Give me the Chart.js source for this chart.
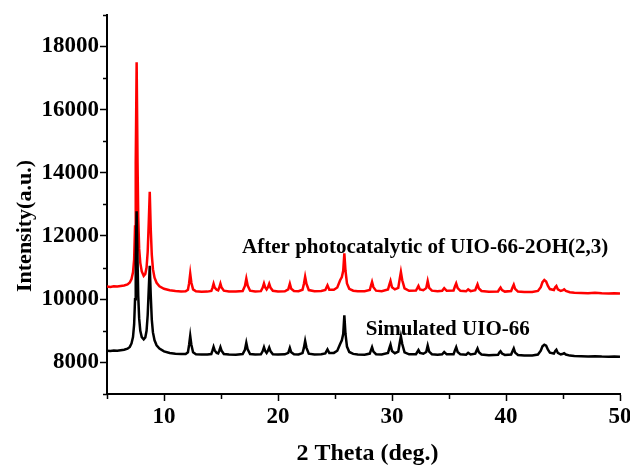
<!DOCTYPE html>
<html>
<head>
<meta charset="utf-8">
<script src="https://cdn.jsdelivr.net/npm/chart.js@4.4.0/dist/chart.umd.min.js"></script>
<style>
  html, body { margin: 0; padding: 0; background: #fff; }
  #wrap { width: 630px; height: 465px; }
</style>
</head>
<body>
<div id="wrap"><canvas id="xrd"></canvas></div>
<script>
// 2θ (deg.)
const twoTheta = [
  5.0, 5.3, 5.6, 5.9, 6.2, 6.5, 6.8, 7.0, 7.15, 7.28,
  7.38, 7.46, 7.52, 7.6, 7.68, 7.74, 7.82, 7.92, 8.05, 8.22,
  8.36, 8.47, 8.57, 8.66, 8.75, 8.84, 8.93, 9.03, 9.17, 9.35,
  9.6, 10.0, 10.5, 11.0, 11.5, 11.9, 12.1, 12.2, 12.3, 12.4,
  12.55, 12.8, 13.3, 13.8, 14.15, 14.25, 14.35, 14.45, 14.62, 14.75,
  14.85, 14.95, 15.05, 15.25, 15.7, 16.3, 16.9, 17.1, 17.22, 17.34,
  17.55, 18.0, 18.5, 18.65, 18.77, 18.88, 19.0, 19.12, 19.23, 19.35,
  19.55, 20.0, 20.6, 20.9, 21.04, 21.16, 21.4, 21.8, 22.15, 22.27,
  22.38, 22.5, 22.7, 23.2, 23.8, 24.15, 24.34, 24.5, 24.9, 25.2,
  25.45, 25.6, 25.72, 25.82, 25.92, 26.05, 26.25, 26.6, 27.0, 27.6,
  28.05, 28.15, 28.25, 28.37, 28.6, 29.1, 29.65, 29.77, 29.87, 30.0,
  30.25, 30.55, 30.68, 30.78, 30.9, 31.1, 31.5, 32.1, 32.22, 32.32,
  32.45, 32.75, 33.0, 33.13, 33.26, 33.5, 34.0, 34.4, 34.58, 34.8,
  35.4, 35.52, 35.63, 35.76, 36.0, 36.5, 36.68, 36.9, 37.3, 37.4,
  37.5, 37.62, 37.85, 38.5, 39.3, 39.42, 39.52, 39.65, 39.9, 40.45,
  40.58, 40.68, 40.8, 41.05, 41.6, 42.3, 42.8, 43.05, 43.2, 43.36,
  43.52, 43.68, 43.85, 44.2, 44.32, 44.42, 44.55, 44.8, 45.0, 45.1,
  45.25, 45.6, 46.0, 46.6, 47.2, 47.8, 48.4, 49.0, 49.5, 50.0
];

// After photocatalytic of UIO-66-2OH(2,3) (rouge)
const afterPhoto = [
  10400, 10390, 10410, 10405, 10420, 10435, 10470, 10530, 10640, 10850,
  11250, 12300, 14300, 17500, 14300, 12600, 11600, 11150, 10880, 10740,
  10800, 11000, 11500, 12400, 13400, 12200, 11400, 10950, 10680, 10520,
  10410, 10330, 10285, 10260, 10245, 10250, 10300, 10500, 10810, 10520,
  10310, 10250, 10235, 10240, 10260, 10360, 10490, 10370, 10300, 10280,
  10370, 10490, 10370, 10270, 10245, 10240, 10260, 10420, 10650, 10430,
  10270, 10245, 10255, 10360, 10500, 10370, 10310, 10380, 10490, 10360,
  10265, 10245, 10250, 10310, 10490, 10330, 10260, 10255, 10300, 10480,
  10710, 10480, 10290, 10255, 10260, 10290, 10440, 10300, 10300, 10370,
  10600, 10700, 10900, 11450, 10900, 10500, 10330, 10270, 10255, 10250,
  10290, 10420, 10545, 10380, 10270, 10255, 10310, 10460, 10575, 10380,
  10310, 10360, 10650, 10860, 10600, 10340, 10265, 10275, 10350, 10420,
  10310, 10285, 10350, 10575, 10360, 10270, 10250, 10265, 10350, 10265,
  10275, 10400, 10500, 10350, 10265, 10250, 10310, 10255, 10285, 10380,
  10470, 10340, 10260, 10235, 10245, 10320, 10370, 10290, 10240, 10260,
  10380, 10460, 10330, 10240, 10225, 10225, 10260, 10380, 10540, 10610,
  10560, 10420, 10320, 10290, 10380, 10420, 10310, 10260, 10290, 10310,
  10260, 10220, 10205, 10200, 10190, 10205, 10190, 10180, 10190, 10180
];

// Simulated UIO-66 (noir)
const simulated = [
  8370, 8360, 8375, 8370, 8385, 8400, 8435, 8490, 8600, 8800,
  9200, 10000, 11200, 12780, 11200, 10100, 9400, 9000, 8800, 8730,
  8790, 9000, 9500, 10300, 11060, 10100, 9350, 8950, 8700, 8540,
  8440, 8350, 8300, 8275, 8265, 8265, 8320, 8550, 8840, 8560,
  8320, 8260, 8250, 8250, 8265, 8370, 8490, 8380, 8300, 8285,
  8370, 8480, 8370, 8265, 8250, 8245, 8265, 8400, 8620, 8410,
  8265, 8250, 8255, 8350, 8480, 8360, 8300, 8370, 8470, 8350,
  8260, 8250, 8255, 8300, 8460, 8320, 8255, 8250, 8295, 8460,
  8680, 8460, 8275, 8250, 8260, 8285, 8410, 8295, 8300, 8370,
  8580, 8700, 8900, 9490, 8900, 8500, 8330, 8270, 8250, 8245,
  8280, 8380, 8480, 8340, 8260, 8250, 8300, 8450, 8560, 8360,
  8290, 8340, 8620, 8820, 8580, 8320, 8255, 8260, 8330, 8390,
  8300, 8275, 8330, 8530, 8340, 8260, 8245, 8255, 8330, 8255,
  8260, 8380, 8480, 8330, 8255, 8245, 8300, 8250, 8275, 8360,
  8440, 8320, 8250, 8230, 8240, 8310, 8350, 8280, 8235, 8250,
  8360, 8440, 8310, 8235, 8220, 8220, 8250, 8370, 8510, 8560,
  8530, 8400, 8310, 8280, 8360, 8400, 8300, 8250, 8275, 8290,
  8250, 8215, 8200, 8195, 8190, 8195, 8185, 8180, 8185, 8180
];

const xMajor = [10, 20, 30, 40, 50];
const xMinor = [5, 15, 25, 35, 45];
const yMajor = [8000, 10000, 12000, 14000, 16000, 18000];
const yMinor = [7000, 9000, 11000, 13000, 15000, 17000, 19000];

const labelFont = '"Liberation Serif", "Times New Roman", serif';

function toPoints(ys) {
  return twoTheta.map((x, i) => ({ x: x, y: ys[i] }));
}

// petites marques mineures + titres + annotations
const extras = {
  id: 'extras',
  afterDraw(chart) {
    const ctx = chart.ctx;
    const xs = chart.scales.x, ys = chart.scales.y;
    const area = chart.chartArea;
    ctx.save();
    ctx.strokeStyle = '#000';
    ctx.lineWidth = 1.5;
    xMinor.forEach(v => {
      const px = Math.round(xs.getPixelForValue(v)) + 0.5;
      ctx.beginPath();
      ctx.moveTo(px, area.bottom);
      ctx.lineTo(px, area.bottom + 5);
      ctx.stroke();
    });
    yMinor.forEach(v => {
      const py = Math.round(ys.getPixelForValue(v)) + 0.5;
      ctx.beginPath();
      ctx.moveTo(area.left, py);
      ctx.lineTo(area.left - 4, py);
      ctx.stroke();
    });

    ctx.fillStyle = '#000';
    ctx.font = 'bold 21px ' + labelFont;
    ctx.textAlign = 'left';
    ctx.textBaseline = 'alphabetic';
    ctx.fillText('After photocatalytic of UIO-66-2OH(2,3)', xs.getPixelForValue(16.85), ys.getPixelForValue(11450));
    ctx.fillText('Simulated UIO-66', xs.getPixelForValue(27.7), ys.getPixelForValue(8860));

    ctx.font = 'bold 24px ' + labelFont;
    ctx.textAlign = 'center';
    ctx.fillText('2 Theta (deg.)', (area.left + area.right) / 2 + 4, 460);

    ctx.font = 'bold 22px ' + labelFont;
    ctx.translate(31, 226);
    ctx.rotate(-Math.PI / 2);
    ctx.fillText('Intensity(a.u.)', 0, 0);
    ctx.restore();
  }
};

new Chart(document.getElementById('xrd'), {
  type: 'line',
  data: {
    datasets: [
      {
        label: 'Simulated UIO-66',
        data: toPoints(simulated),
        borderColor: '#000000',
        borderWidth: 2.5,
        pointRadius: 0,
        tension: 0,
        order: 0
      },
      {
        label: 'After photocatalytic of UIO-66-2OH(2,3)',
        data: toPoints(afterPhoto),
        borderColor: '#ff0000',
        borderWidth: 2.5,
        pointRadius: 0,
        tension: 0,
        order: 1
      }
    ]
  },
  options: {
    responsive: true,
    maintainAspectRatio: false,
    animation: false,
    layout: { padding: { top: 14, right: 10, left: 0, bottom: 0 } },
    plugins: {
      legend: { display: false },
      tooltip: { enabled: false }
    },
    scales: {
      x: {
        type: 'linear',
        min: 5,
        max: 50,
        afterBuildTicks: s => { s.ticks = xMajor.map(v => ({ value: v })); },
        afterFit: s => { s.height = 71; s.paddingRight = 0; },
        ticks: {
          color: '#000',
          font: { family: labelFont, size: 23, weight: 'bold' },
          padding: 2,
          maxRotation: 0,
          autoSkip: false,
          callback: v => String(v)
        },
        grid: { drawOnChartArea: false, tickLength: 7, tickWidth: 1.5, tickColor: '#000' },
        border: { color: '#000', width: 2 }
      },
      y: {
        type: 'linear',
        min: 7000,
        max: 19000,
        afterBuildTicks: s => { s.ticks = yMajor.map(v => ({ value: v })); },
        afterFit: s => { s.width = 107; },
        ticks: {
          color: '#000',
          font: { family: labelFont, size: 23, weight: 'bold' },
          padding: 1,
          autoSkip: false,
          callback: v => String(v)
        },
        grid: { drawOnChartArea: false, tickLength: 7, tickWidth: 1.5, tickColor: '#000' },
        border: { color: '#000', width: 2 }
      }
    }
  },
  plugins: [extras]
});
</script>
</body>
</html>
